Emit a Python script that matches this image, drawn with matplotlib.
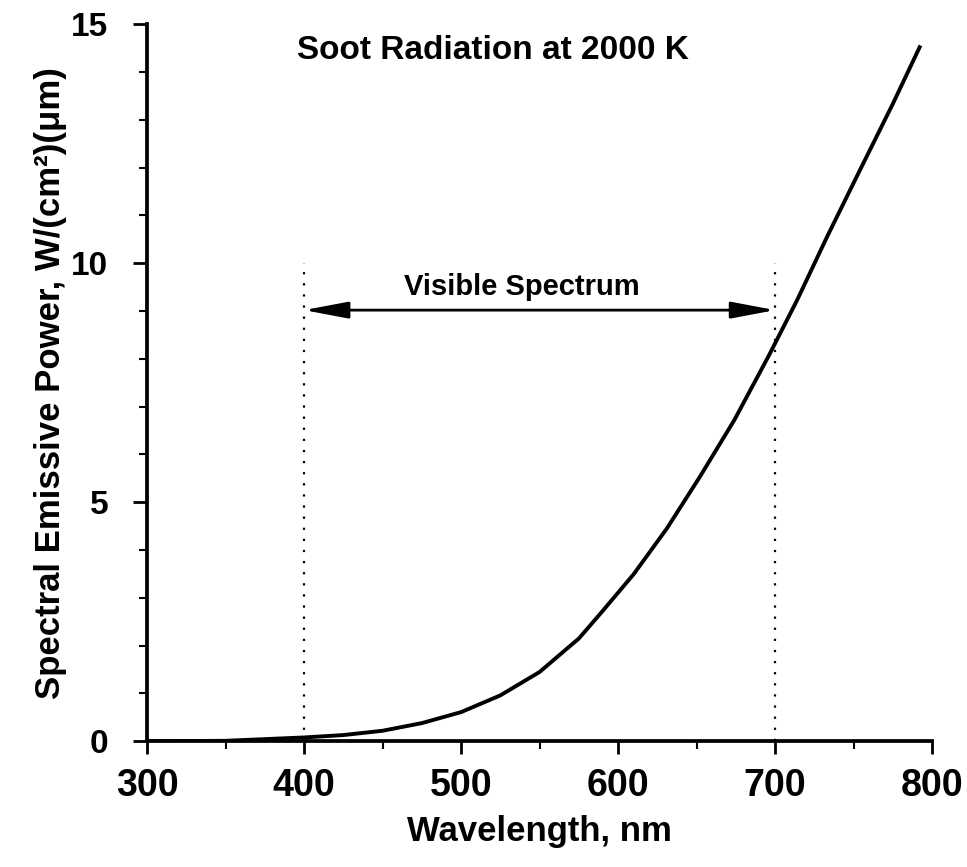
import matplotlib.pyplot as plt
import numpy as np

# Curve values (wavelength in nm, power in W/(cm2)(um))
wavelength = [300, 350, 400, 425, 450, 475, 500, 525, 550, 575, 590, 610,
              631, 652, 674, 696, 714, 733, 754, 775, 792]
power = [0.0, 0.01, 0.08, 0.13, 0.22, 0.38, 0.61, 0.96, 1.45, 2.15, 2.72, 3.5,
         4.45, 5.53, 6.72, 8.07, 9.23, 10.55, 11.95, 13.34, 14.52]

visible_lo, visible_hi = 400, 700
xticks = [300, 400, 500, 600, 700, 800]
yticks = [0, 5, 10, 15]

plt.rcParams['font.family'] = ['Liberation Sans', 'DejaVu Sans']
plt.rcParams['font.weight'] = 'bold'

fig = plt.figure(figsize=(9.67, 8.67), dpi=100)
ax = fig.add_axes([0.152, 0.145, 0.812, 0.827])

ax.plot(wavelength, power, color='black', linewidth=2.8)

# Dotted visible-spectrum boundaries
ax.plot([visible_lo, visible_lo], [0, 10], color='black', linestyle=(0, (1, 4)), linewidth=1.6)
ax.plot([visible_hi, visible_hi], [0, 10], color='black', linestyle=(0, (1, 4)), linewidth=1.6)
ax.annotate('', xy=(visible_lo, 9.02), xytext=(visible_hi, 9.02),
            arrowprops=dict(arrowstyle='<|-|>,head_length=0.9,head_width=0.17',
                            color='black', lw=2, mutation_scale=30,
                            shrinkA=0, shrinkB=0))
ax.text(539, 9.5, 'Visible Spectrum', ha='center', va='center', fontsize=21, fontweight='bold')
ax.text(520, 14.45, 'Soot Radiation at 2000 K', ha='center', va='center', fontsize=24)

ax.set_xlim(300, 800)
ax.set_ylim(0, 15)
ax.set_xticks(xticks)
ax.set_yticks(yticks)
ax.set_xticks(np.arange(350, 800, 100), minor=True)
ax.set_yticks([v for v in range(1, 15) if v % 5], minor=True)
ax.tick_params(axis='x', which='major', direction='out', length=9, width=2, labelsize=27, pad=10)
ax.tick_params(axis='y', which='major', direction='out', length=10, width=2, labelsize=24, pad=18)
ax.tick_params(axis='both', which='minor', direction='out', length=6, width=1.5)

for side in ['top', 'right']:
    ax.spines[side].set_visible(False)
for side in ['left', 'bottom']:
    ax.spines[side].set_linewidth(2.7)

ax.set_xlabel('Wavelength, nm', fontsize=25, fontweight='bold', labelpad=8)
ax.set_ylabel('Spectral Emissive Power, W/(cm²)(μm)', fontsize=25, fontweight='bold', labelpad=3)

fig.savefig('out.png', dpi=100)
